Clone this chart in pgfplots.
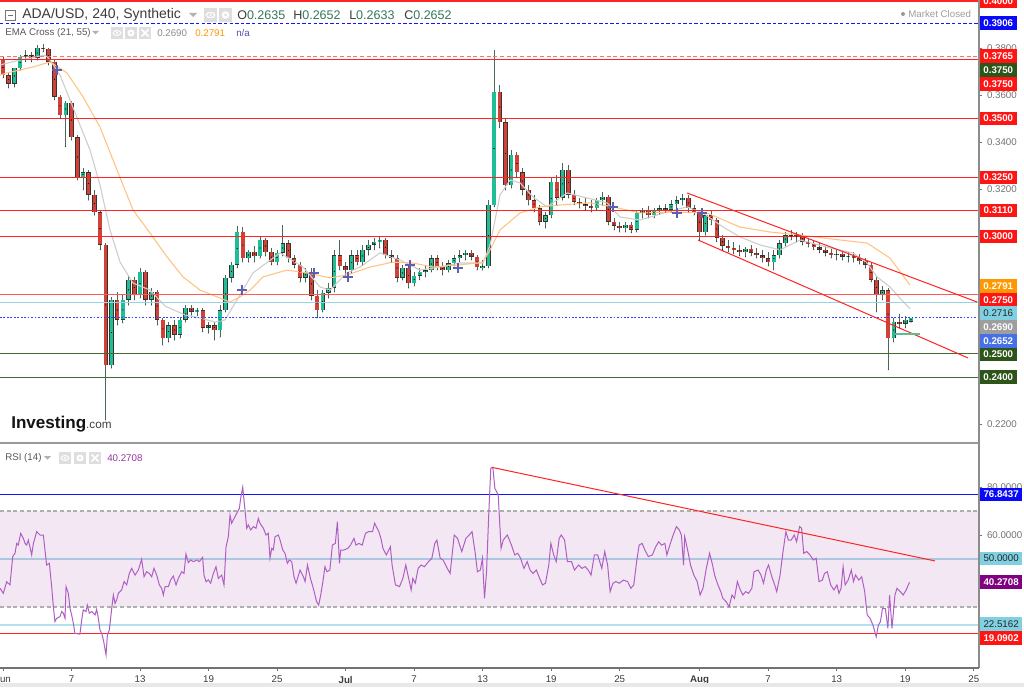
\documentclass[border=0pt]{standalone}
\usepackage{pgfplots}
\pgfplotsset{compat=1.18}
\usepackage{pgfplotstable}
\usepackage{fontspec}
\setmainfont{Liberation Sans}

\definecolor{tvred}{RGB}{255,35,35}
\definecolor{lblred}{RGB}{255,20,20}
\definecolor{dkgreen}{RGB}{45,85,25}
\definecolor{lngreen}{RGB}{70,105,50}
\definecolor{lnblue}{RGB}{20,20,255}
\definecolor{lblblue}{RGB}{10,10,250}
\definecolor{emaorange}{RGB}{255,195,130}
\definecolor{lblorange}{RGB}{255,152,0}
\definecolor{emagray}{RGB}{205,205,205}
\definecolor{lblgray}{RGB}{158,158,158}
\definecolor{lblcyan}{RGB}{128,208,226}
\definecolor{lncyan}{RGB}{150,212,228}
\definecolor{lblroyal}{RGB}{72,112,230}
\definecolor{lastblue}{RGB}{40,70,255}
\definecolor{upc}{RGB}{30,190,150}
\definecolor{dnc}{RGB}{210,65,55}
\definecolor{edgec}{RGB}{60,50,45}
\definecolor{wickc}{RGB}{75,105,90}
\definecolor{crossc}{RGB}{95,95,175}
\definecolor{rsic}{RGB}{175,95,195}
\definecolor{bandc}{RGB}{243,231,243}
\definecolor{rsidash}{RGB}{175,175,175}
\definecolor{rsimid}{RGB}{172,200,225}
\definecolor{rsilow}{RGB}{180,226,236}
\definecolor{lblpurple}{RGB}{128,0,128}
\definecolor{txt}{RGB}{60,60,60}
\definecolor{ticktxt}{RGB}{115,115,115}
\definecolor{ohlc}{RGB}{55,120,85}
\definecolor{naclr}{RGB}{80,80,175}
\definecolor{icon}{RGB}{222,222,222}
\definecolor{shortg}{RGB}{90,190,150}

\pgfplotstableread{
d o h l c
0 .3749 .3762 .3672 .3685
0.5 .3685 .3698 .3630 .3647
1 .3647 .3715 .3634 .3715
1.5 .3715 .3770 .3706 .3762
2 .3762 .3792 .3741 .3770
2.5 .3770 .3783 .3741 .3758
3 .3758 .3813 .3749 .3800
3.5 .3800 .3817 .3783 .3796
4 .3796 .3800 .3728 .3741
4.5 .3741 .3749 .3579 .3592
5 .3592 .3600 .3502 .3515
5.5 .3515 .3575 .3380 .3566
6 .3566 .3575 .3409 .3421
6.5 .3421 .3430 .3238 .3251
7 .3251 .3289 .3196 .3272
7.5 .3272 .3281 .3153 .3175
8 .3175 .3196 .3089 .3102
8.5 .3102 .3111 .2941 .2962
9 .2962 .2970 .2217 .2451
9.5 .2451 .2741 .2438 .2728
10 .2728 .2762 .2621 .2643
10.5 .2643 .2749 .2630 .2728
11 .2728 .2834 .2706 .2813
11.5 .2813 .2826 .2728 .2749
12 .2749 .2864 .2736 .2847
12.5 .2847 .2855 .2706 .2728
13 .2728 .2779 .2706 .2762
13.5 .2762 .2770 .2621 .2643
14 .2643 .2651 .2536 .2566
14.5 .2566 .2634 .2549 .2621
15 .2621 .2643 .2557 .2579
15.5 .2579 .2651 .2566 .2643
16 .2643 .2706 .2634 .2694
16.5 .2694 .2706 .2664 .2677
17 .2677 .2694 .2660 .2685
17.5 .2685 .2694 .2592 .2609
18 .2609 .2634 .2587 .2621
18.5 .2621 .2634 .2557 .2600
19 .2600 .2706 .2570 .2685
19.5 .2685 .2834 .2677 .2822
20 .2822 .2889 .2804 .2877
20.5 .2877 .3043 .2864 .3017
21 .3017 .3038 .2889 .2906
21.5 .2906 .2941 .2889 .2932
22 .2932 .2958 .2889 .2915
22.5 .2915 .2996 .2906 .2983
23 .2983 .2992 .2915 .2932
23.5 .2932 .2949 .2877 .2889
24 .2889 .2941 .2877 .2928
24.5 .2928 .3047 .2915 .2970
25 .2970 .2983 .2889 .2906
25.5 .2906 .2919 .2864 .2877
26 .2877 .2889 .2804 .2822
26.5 .2822 .2864 .2804 .2847
27 .2847 .2864 .2728 .2745
27.5 .2745 .2770 .2651 .2685
28 .2685 .2770 .2677 .2758
28.5 .2758 .2800 .2736 .2779
29 .2779 .2941 .2762 .2919
29.5 .2919 .2983 .2855 .2872
30 .2872 .2889 .2834 .2855
30.5 .2855 .2941 .2843 .2919
31 .2919 .2941 .2877 .2889
31.5 .2889 .2962 .2877 .2941
32 .2941 .2983 .2919 .2962
32.5 .2962 .2992 .2941 .2975
33 .2975 .3000 .2949 .2983
33.5 .2983 .2992 .2906 .2919
34 .2919 .2941 .2889 .2906
34.5 .2906 .2919 .2804 .2822
35 .2822 .2877 .2813 .2864
35.5 .2864 .2881 .2779 .2800
36 .2800 .2847 .2787 .2830
36.5 .2830 .2864 .2813 .2847
37 .2847 .2872 .2826 .2855
37.5 .2855 .2919 .2847 .2906
38 .2906 .2919 .2855 .2868
38.5 .2868 .2889 .2834 .2855
39 .2855 .2898 .2847 .2885
39.5 .2885 .2919 .2872 .2906
40 .2906 .2941 .2889 .2919
40.5 .2919 .2941 .2898 .2928
41 .2928 .2941 .2898 .2911
41.5 .2911 .2919 .2855 .2868
42 .2868 .2898 .2855 .2872
42.5 .2872 .3153 .2864 .3132
43 .3132 .3792 .3124 .3613
43.5 .3613 .3643 .3460 .3485
44 .3485 .3502 .3196 .3217
44.5 .3217 .3366 .3204 .3345
45 .3345 .3358 .3247 .3272
45.5 .3272 .3289 .3175 .3196
46 .3196 .3217 .3132 .3153
46.5 .3153 .3175 .3102 .3119
47 .3119 .3132 .3047 .3060
47.5 .3060 .3102 .3034 .3089
48 .3089 .3247 .3077 .3230
48.5 .3230 .3260 .3132 .3162
49 .3162 .3311 .3153 .3281
49.5 .3281 .3302 .3162 .3175
50 .3175 .3196 .3132 .3145
50.5 .3145 .3162 .3119 .3136
51 .3136 .3162 .3111 .3128
51.5 .3128 .3153 .3102 .3119
52 .3119 .3162 .3111 .3153
52.5 .3153 .3187 .3132 .3166
53 .3166 .3175 .3047 .3060
53.5 .3060 .3077 .3026 .3043
54 .3043 .3060 .3017 .3034
54.5 .3034 .3060 .3017 .3047
55 .3047 .3060 .3013 .3026
55.5 .3026 .3111 .3017 .3098
56 .3098 .3119 .3077 .3107
56.5 .3107 .3128 .3077 .3089
57 .3089 .3119 .3077 .3111
57.5 .3111 .3132 .3094 .3119
58 .3119 .3136 .3102 .3111
58.5 .3111 .3153 .3102 .3136
59 .3136 .3170 .3119 .3153
59.5 .3153 .3179 .3132 .3162
60 .3162 .3175 .3102 .3119
60.5 .3119 .3132 .3089 .3102
61 .3102 .3111 .2983 .3017
61.5 .3017 .3102 .3004 .3089
62 .3089 .3111 .3047 .3068
62.5 .3068 .3077 .2975 .2992
63 .2992 .3004 .2941 .2958
63.5 .2958 .2983 .2932 .2949
64 .2949 .2975 .2924 .2941
64.5 .2941 .2962 .2915 .2932
65 .2932 .2953 .2911 .2945
65.5 .2945 .2962 .2915 .2928
66 .2928 .2949 .2906 .2919
66.5 .2919 .2941 .2889 .2906
67 .2906 .2932 .2872 .2889
67.5 .2889 .2941 .2855 .2919
68 .2919 .2983 .2906 .2970
68.5 .2970 .3017 .2958 .3004
69 .3004 .3026 .2983 .2996
69.5 .2996 .3017 .2975 .3004
70 .3004 .3013 .2962 .2975
70.5 .2975 .2992 .2953 .2966
71 .2966 .2983 .2941 .2953
71.5 .2953 .2970 .2928 .2941
72 .2941 .2958 .2915 .2928
72.5 .2928 .2949 .2906 .2919
73 .2919 .2941 .2898 .2924
73.5 .2924 .2941 .2898 .2911
74 .2911 .2932 .2889 .2915
74.5 .2915 .2932 .2889 .2906
75 .2906 .2924 .2881 .2894
75.5 .2894 .2906 .2864 .2877
76 .2877 .2889 .2804 .2813
76.5 .2813 .2830 .2677 .2749
77 .2749 .2787 .2728 .2770
77.5 .2770 .2779 .2430 .2566
78 .2566 .2651 .2549 .2634
78.5 .2634 .2668 .2609 .2626
79 .2626 .2660 .2609 .2643
79.5 .2635 .2652 .2633 .2652
}\candles

\pgfplotstableread{
d p
-0.26 .3728
1.49 .3749
3.68 .3770
4.12 .3749
4.99 .3685
5.87 .3579
6.74 .3472
7.62 .3366
8.49 .3217
9.37 .3026
10.25 .2889
11.38 .2800
12.87 .2770
14.19 .2702
15.94 .2664
17.25 .2651
18.56 .2634
19.44 .2643
20.75 .2749
21.89 .2843
24.26 .2928
26.27 .2868
27.76 .2783
28.63 .2770
30.12 .2843
31.26 .2868
33.01 .2928
34.76 .2898
36.51 .2855
38.27 .2868
40.02 .2885
42.03 .2885
42.65 .2962
43.52 .3175
44.40 .3238
45.27 .3226
46.41 .3166
47.64 .3124
49.39 .3183
50.79 .3166
52.89 .3141
54.03 .3081
55.78 .3068
58.14 .3102
59.89 .3124
61.30 .3098
63.05 .3038
64.54 .2996
66.29 .2962
68.04 .2941
69.79 .2983
72.42 .2949
74.43 .2928
75.66 .2885
76.53 .2826
77.67 .2783
78.55 .2735
79.42 .2690
}\emafast

\pgfplotstableread{
d p
-0.26 .3685
0.35 .3694
2.63 .3719
4.12 .3741
5.60 .3694
7.01 .3592
8.49 .3464
9.98 .3281
11.38 .3111
12.87 .3013
14.36 .2911
15.76 .2826
17.25 .2770
18.74 .2741
19.88 .2719
20.75 .2741
21.63 .2770
22.77 .2826
24.87 .2855
26.62 .2843
28.63 .2822
30.12 .2834
32.14 .2868
34.15 .2889
35.90 .2885
37.65 .2868
40.02 .2877
42.03 .2889
42.65 .2941
43.52 .3026
45.27 .3098
47.02 .3124
48.77 .3132
51.40 .3141
53.42 .3124
55.78 .3098
58.67 .3102
61.65 .3098
64.54 .3038
67.16 .3017
69.79 .3004
73.29 .2983
75.66 .2970
77.67 .2906
79.42 .2791
}\emaslow

\pgfplotstableread{
d r
-0.26 37.8
0.03 35.7
0.32 40.5
0.61 39.2
0.85 51.0
1.05 52.4
1.20 56.5
1.34 55.8
1.55 60.7
1.78 58.6
1.93 56.5
2.07 55.8
2.22 57.9
2.51 51.7
2.66 56.5
2.95 61.4
3.24 60.0
3.53 60.0
3.82 47.5
4.06 48.2
4.26 38.5
4.41 30.1
4.55 23.9
4.70 25.3
4.99 26.0
5.14 28.1
5.28 27.4
5.43 25.3
5.52 38.5
5.72 35.7
5.87 29.4
6.01 26.7
6.16 23.2
6.30 19.0
6.74 18.7
6.89 24.6
7.03 28.8
7.27 28.1
7.38 30.8
7.56 27.4
7.76 28.1
8.06 26.7
8.20 29.0
8.35 25.3
8.49 20.4
8.64 19.0
8.79 16.3
9.02 10.0
9.14 18.3
9.31 20.4
9.52 29.4
9.66 35.0
9.81 31.5
9.95 32.9
10.10 35.7
10.39 37.1
10.60 40.6
10.83 39.2
11.06 44.0
11.27 46.1
11.56 43.3
11.85 45.4
12.14 49.9
12.35 42.6
12.58 44.7
12.81 44.0
13.02 42.6
13.22 46.1
13.46 43.3
13.69 39.2
13.89 37.8
14.04 35.0
14.19 38.5
14.48 38.5
14.68 41.3
14.91 42.9
15.15 39.2
15.35 41.9
15.65 44.7
15.85 44.0
16.02 52.1
16.23 48.5
16.43 49.6
16.67 48.9
16.96 49.6
17.19 48.9
17.48 50.7
17.60 43.3
17.78 40.5
17.98 41.3
18.18 39.9
18.42 44.0
18.65 46.8
18.86 41.9
19.00 42.6
19.15 43.3
19.35 39.2
19.53 55.1
19.73 59.3
19.88 68.3
20.02 64.9
20.17 66.3
20.46 69.0
20.70 71.1
20.81 75.3
20.99 79.9
21.19 70.4
21.34 62.8
21.48 64.2
21.69 62.1
21.92 63.5
22.15 62.8
22.36 66.9
22.50 64.9
22.80 62.8
23.03 60.0
23.23 60.7
23.38 50.3
23.53 54.4
23.67 53.8
23.82 59.3
24.11 60.0
24.26 57.9
24.49 53.8
24.69 52.4
24.90 48.2
25.07 49.6
25.28 48.9
25.48 42.6
25.66 39.9
26.01 45.4
26.30 42.6
26.45 40.6
26.66 47.5
26.92 41.9
27.17 37.8
27.46 32.2
27.64 30.8
27.82 35.0
28.01 40.6
28.19 46.8
28.37 44.7
28.62 45.4
28.84 55.8
29.10 56.5
29.28 65.6
29.46 48.2
29.57 53.7
29.82 53.7
30.18 54.4
30.44 55.8
30.73 58.6
30.91 55.8
31.16 56.5
31.45 55.8
31.74 60.7
32.00 61.4
32.36 61.4
32.54 64.9
32.91 61.4
33.09 58.6
33.27 54.4
33.56 51.7
33.92 55.1
34.07 47.5
34.36 39.2
34.72 38.5
35.01 41.9
35.27 47.5
35.52 41.9
35.74 37.1
35.88 41.9
36.10 39.9
36.35 46.1
36.61 47.5
36.90 46.8
37.26 48.9
37.55 50.3
37.81 56.5
37.99 57.9
38.28 50.3
38.53 49.6
38.90 46.1
39.15 44.0
39.51 60.0
39.80 58.6
40.17 53.1
40.35 55.8
40.53 58.6
40.82 60.0
41.07 61.4
41.33 53.1
41.54 44.7
41.80 45.4
41.98 50.3
42.16 33.6
42.34 44.7
42.53 68.3
42.71 87.8
42.89 88.2
43.07 79.4
43.36 76.7
43.51 63.5
43.61 54.4
43.80 57.9
44.16 60.0
44.52 55.8
44.81 51.7
45.07 52.4
45.32 50.3
45.61 46.1
45.90 48.9
46.15 45.4
46.41 44.0
46.70 45.4
46.99 41.9
47.24 39.2
47.50 39.9
47.79 47.5
47.97 56.5
48.22 51.7
48.44 48.9
48.70 58.6
48.88 60.0
49.17 57.9
49.42 48.9
49.78 48.9
50.04 45.4
50.40 47.5
50.69 46.1
50.98 46.8
51.24 45.4
51.49 43.3
51.78 51.7
52.07 51.7
52.43 46.1
52.69 53.1
52.94 47.5
53.16 36.4
53.41 39.9
53.67 40.6
53.96 39.9
54.32 41.2
54.69 40.6
54.98 37.8
55.23 39.2
55.48 48.9
55.70 55.8
55.96 56.5
56.21 53.7
56.50 51.0
56.86 51.7
57.15 55.1
57.41 57.2
57.66 55.8
57.95 56.5
58.13 51.7
58.39 55.8
58.68 60.0
58.97 63.5
59.22 62.1
59.40 60.0
59.59 47.5
59.69 59.3
59.95 53.7
60.20 47.5
60.49 43.3
60.78 40.6
61.04 35.0
61.29 37.8
61.58 46.1
61.87 52.4
62.13 47.5
62.31 43.3
62.60 39.2
62.85 36.4
63.03 33.6
63.32 32.2
63.58 30.1
63.83 35.0
64.05 33.6
64.30 40.6
64.56 37.1
64.78 35.0
65.03 36.4
65.28 35.7
65.57 37.8
65.76 44.7
66.12 45.4
66.37 43.3
66.59 39.9
66.84 45.4
67.03 47.5
67.32 42.6
67.57 39.2
67.75 36.4
68.04 43.3
68.30 53.1
68.55 61.4
68.77 57.9
69.02 57.9
69.28 60.0
69.49 57.2
69.75 63.5
69.93 62.8
70.11 52.4
70.37 53.1
70.66 51.7
70.95 49.6
71.20 50.3
71.45 40.6
71.74 41.2
71.93 44.0
72.18 44.7
72.47 39.2
72.76 37.1
73.02 39.2
73.20 35.7
73.38 37.8
73.56 46.8
73.74 39.2
74.00 41.2
74.28 45.4
74.47 40.6
74.65 43.3
74.94 41.2
75.19 42.6
75.45 36.4
75.67 26.7
75.92 25.3
76.17 22.5
76.46 17.6
76.65 22.5
76.83 23.9
77.01 29.4
77.26 29.4
77.48 21.1
77.63 35.0
77.84 21.1
78.10 35.0
78.28 37.8
78.57 36.4
78.82 35.0
79.08 37.1
79.37 40.27
}\rsi

\newcommand\lblfont{\bfseries\fontsize{7.3}{8}\selectfont}
\newcommand\smallfont{\fontsize{7.3}{8}\selectfont}
\def\XA{-0.263}
\def\XB{85.46}
\newcommand\plabel[4]{\node[fill=#2, text=#3, font=\lblfont, inner sep=0pt, minimum width=27.75pt, minimum height=9.9pt, anchor=west] at (979.5,687-#1) {#4};}
\newcommand\plabelc[2]{\node[fill=lblcyan, text=black!85, font=\smallfont, inner sep=0pt, minimum width=#2, minimum height=9.9pt, anchor=west] at (979.5,687-#1)}
\newcommand\rlabel[4]{\node[fill=#2, text=#3, font=\lblfont, inner sep=0pt, minimum width=32pt, minimum height=9.9pt, anchor=west] at (979.5,687-#1) {#4};}
\pgfplotsset{candle/.style={forget plot, only marks, mark=*, mark size=0.01pt, mark options={draw=none, fill=none}}}

\begin{document}
\begin{tikzpicture}
\begin{scope}[x=0.75pt,y=0.75pt]
\fill[white] (0,0) rectangle (1024,687);
\end{scope}

% ---------------- price panel ----------------
\begin{axis}[
  at={(0pt,183.75pt)}, anchor=south west, scale only axis,
  width=734.25pt, height=331.5pt,
  xmin=-0.263, xmax=85.46, ymin=0.21234, ymax=0.40043,
  axis line style={draw=none},
  xtick=\empty,
  ytick={0.22,0.32,0.34,0.36,0.38},
  ytick pos=right, yticklabel pos=right,
  tick align=outside, major tick length=2.5pt,
  tick style={ticktxt, line width=0.6pt},
  scaled y ticks=false,
  yticklabel style={font=\smallfont, text=ticktxt, /pgf/number format/.cd, fixed, fixed zerofill, precision=4, assume math mode=true},
  clip=true,
]
% candles
\addplot[candle, error bars/.cd, y dir=plus, y explicit, error mark=none,
  error bar style={line width=0.65pt, wickc}]
  table[x=d, y=l, y error expr=\thisrow{h}-\thisrow{l}] {\candles};
\addplot[candle, error bars/.cd, y dir=both, y explicit, error mark=none,
  error bar style={line width=3.4pt, edgec}]
  table[x=d, y expr=(\thisrow{o}+\thisrow{c})/2, y error expr={max(abs(\thisrow{c}-\thisrow{o})/2,0.00025)}] {\candles};
\addplot[candle, error bars/.cd, y dir=both, y explicit, error mark=none,
  error bar style={line width=2.5pt, upc}]
  table[x=d, y expr=(\thisrow{o}+\thisrow{c})/2, y error expr={(\thisrow{c}>=\thisrow{o}) ? max((\thisrow{c}-\thisrow{o})/2-0.0002,0.0001) : 0}] {\candles};
\addplot[candle, error bars/.cd, y dir=both, y explicit, error mark=none,
  error bar style={line width=2.5pt, dnc}]
  table[x=d, y expr=(\thisrow{o}+\thisrow{c})/2, y error expr={(\thisrow{c}<\thisrow{o}) ? max((\thisrow{o}-\thisrow{c})/2-0.0002,0.0001) : 0}] {\candles};
% EMAs
\addplot[emagray, line width=0.8pt, forget plot] table[x=d, y=p] {\emafast};
\addplot[emaorange, line width=0.8pt, forget plot] table[x=d, y=p] {\emaslow};
% horizontal levels
\addplot[tvred, line width=0.8pt, forget plot] coordinates {(\XA,0.4000) (\XB,0.4000)};
\addplot[lnblue, line width=0.7pt, dash pattern=on 2.6pt off 1.6pt, forget plot] coordinates {(\XA,0.3906) (\XB,0.3906)};
\addplot[tvred!65, line width=0.8pt, dash pattern=on 3pt off 2pt, forget plot] coordinates {(\XA,0.3765) (\XB,0.3765)};
\addplot[tvred, line width=0.75pt, forget plot] coordinates {(\XA,0.3750) (\XB,0.3750)};
\addplot[tvred, line width=0.75pt, forget plot] coordinates {(\XA,0.3500) (\XB,0.3500)};
\addplot[tvred, line width=0.75pt, forget plot] coordinates {(\XA,0.3250) (\XB,0.3250)};
\addplot[tvred, line width=0.75pt, forget plot] coordinates {(\XA,0.3110) (\XB,0.3110)};
\addplot[tvred, line width=0.75pt, forget plot] coordinates {(\XA,0.3000) (\XB,0.3000)};
\addplot[tvred!75, line width=1.1pt, forget plot] coordinates {(\XA,0.2750) (\XB,0.2750)};
\addplot[lncyan, line width=0.8pt, forget plot] coordinates {(\XA,0.2716) (\XB,0.2716)};
\addplot[lastblue, line width=0.75pt, dash pattern=on 1.3pt off 1.3pt, forget plot] coordinates {(\XA,0.2652) (\XB,0.2652)};
\addplot[lngreen, line width=0.75pt, forget plot] coordinates {(\XA,0.2500) (\XB,0.2500)};
\addplot[lngreen, line width=0.75pt, forget plot] coordinates {(\XA,0.2400) (\XB,0.2400)};
% channel
\addplot[tvred, line width=0.75pt, forget plot] coordinates {(59.9,0.3183) (85.3,0.2719)};
\addplot[tvred, line width=0.75pt, forget plot] coordinates {(60.86,0.2983) (84.5,0.2481)};
\addplot[shortg, line width=1pt, forget plot] coordinates {(78.1,0.2583) (80.3,0.2583)};
% EMA cross markers
\addplot[only marks, mark=+, mark size=3.6pt, crossc, line width=2pt, forget plot] coordinates {
(4.73,.3706) (20.93,.2770) (27.23,.2843) (30.21,.2826) (35.64,.2877) (39.84,.2864) (53.42,.3124) (59.02,.3098) (61.21,.3098)};
\end{axis}

% ---------------- RSI panel ----------------
\begin{axis}[
  at={(0pt,14.25pt)}, anchor=south west, scale only axis,
  width=734.25pt, height=167.25pt,
  xmin=-0.263, xmax=85.46, ymin=4.58, ymax=97.5,
  axis line style={draw=none},
  xtick={0,6,12,18,24,30,36,42,48,54,61,67,73,79,85},
  xticklabels={Jun,7,13,19,25,\textbf{Jul},7,13,19,25,\textbf{Aug},7,13,19,25},
  xtick pos=left, xticklabel pos=left,
  ytick={60,80}, ytick pos=right, yticklabel pos=right,
  tick align=outside, major tick length=2.5pt,
  tick style={ticktxt, line width=0.6pt},
  xticklabel style={font=\smallfont, text=txt},
  yticklabel style={font=\smallfont, text=ticktxt, /pgf/number format/.cd, fixed, fixed zerofill, precision=4, assume math mode=true},
  clip=true,
]
\fill[bandc] (axis cs:\XA,30) rectangle (axis cs:\XB,70);
\addplot[rsidash, line width=1pt, dash pattern=on 3pt off 2pt, forget plot] coordinates {(\XA,70) (\XB,70)};
\addplot[rsidash, line width=1pt, dash pattern=on 3pt off 2pt, forget plot] coordinates {(\XA,30) (\XB,30)};
\addplot[lnblue, line width=0.75pt, forget plot] coordinates {(\XA,76.8437) (\XB,76.8437)};
\addplot[rsimid, line width=1.4pt, forget plot] coordinates {(\XA,50) (\XB,50)};
\addplot[rsilow, line width=1.4pt, forget plot] coordinates {(\XA,22.5162) (\XB,22.5162)};
\addplot[tvred, line width=0.75pt, forget plot] coordinates {(\XA,19.0902) (\XB,19.0902)};
\addplot[rsic, line width=0.75pt, forget plot] table[x=d, y=r] {\rsi};
\addplot[tvred, line width=0.75pt, forget plot] coordinates {(42.8,88.2) (81.6,49.2)};
\end{axis}

% ---------------- frame, labels, headers ----------------
\begin{scope}[x=0.75pt,y=0.75pt]
\fill[black!9] (0,0) rectangle (1024,4);
\draw[black!45, line width=1.1pt] (979,687) -- (979,19);
\draw[black!40, line width=1.3pt] (0,244) -- (979,244);
\draw[black!55, line width=0.8pt] (0,19) -- (979,19);

% price labels
\plabel{1}{lblred}{white}{0.4000}
\plabel{23}{lblblue}{white}{0.3906}
\plabel{56}{lblred}{white}{0.3765}
\plabel{70}{dkgreen}{white}{0.3750}
\plabel{84}{lblred}{white}{0.3750}
\plabel{118.5}{lblred}{white}{0.3500}
\plabel{177.5}{lblred}{white}{0.3250}
\plabel{210.5}{lblred}{white}{0.3110}
\plabel{236.5}{lblred}{white}{0.3000}
\plabel{286}{lblorange}{white}{0.2791}
\plabel{300}{lblred}{white}{0.2750}
\plabelc{313}{27.75pt}{0.2716};
\plabel{327}{lblgray}{white}{0.2690}
\plabel{341}{lblroyal}{white}{0.2652}
\plabel{354.5}{dkgreen}{white}{0.2500}
\plabel{377}{dkgreen}{white}{0.2400}
% RSI labels
\rlabel{494.6}{lblblue}{white}{76.8437}
\plabelc{558.5}{32pt}{50.0000};
\rlabel{582}{lblpurple}{white}{40.2708}
\plabelc{624}{32pt}{22.5162};
\rlabel{638}{lblred}{white}{19.0902}

% title line
\draw[black!55, line width=0.6pt] (5,667) rectangle (15,677);
\draw[black!55, line width=0.6pt] (7.5,672) -- (12.5,672);
\node[anchor=west, inner sep=0pt, text=txt, font=\fontsize{10.5}{12}\selectfont] at (22,672) {ADA/USD, 240, Synthetic};
\fill[black!30] (189,674) -- (197,674) -- (193,670) -- cycle;
\fill[icon] (204,665) rectangle (217,679);
\fill[icon] (219,665) rectangle (232,679);
\draw[white, line width=0.9pt] (210.5,672) ellipse (4.2 and 2.6);
\fill[white] (210.5,672) circle (1.2);
\fill[white] (225.5,672) circle (3.8);
\fill[icon] (225.5,672) circle (1.5);
\node[anchor=west, inner sep=0pt, font=\fontsize{9.4}{11}\selectfont] at (237,672) {\textcolor{txt}{O}\textcolor{ohlc}{0.2635}};
\node[anchor=west, inner sep=0pt, font=\fontsize{9.4}{11}\selectfont] at (293,672) {\textcolor{txt}{H}\textcolor{ohlc}{0.2652}};
\node[anchor=west, inner sep=0pt, font=\fontsize{9.4}{11}\selectfont] at (349,672) {\textcolor{txt}{L}\textcolor{ohlc}{0.2633}};
\node[anchor=west, inner sep=0pt, font=\fontsize{9.4}{11}\selectfont] at (404,672) {\textcolor{txt}{C}\textcolor{ohlc}{0.2652}};

% EMA line
\node[anchor=west, inner sep=0pt, text=txt!85, font=\smallfont] at (5,654) {EMA Cross (21, 55)};
\fill[black!30] (92,656) -- (99,656) -- (95.5,652.5) -- cycle;
\fill[icon] (111,648) rectangle (123,660);
\fill[icon] (125,648) rectangle (137,660);
\fill[icon] (139,648) rectangle (151,660);
\draw[white, line width=0.8pt] (117,654) ellipse (3.8 and 2.4);
\fill[white] (117,654) circle (1.1);
\fill[white] (131,654) circle (3.5);
\fill[icon] (131,654) circle (1.4);
\draw[white, line width=1.1pt] (141.5,650.5) -- (148.5,657.5) (141.5,657.5) -- (148.5,650.5);
\node[anchor=west, inner sep=0pt, text=black!45, font=\smallfont] at (157,654) {0.2690};
\node[anchor=west, inner sep=0pt, text=lblorange, font=\smallfont] at (195,654) {0.2791};
\node[anchor=west, inner sep=0pt, text=naclr, font=\smallfont] at (236,654) {n/a};

% market closed
\fill[black!40] (903,673) circle (2);
\node[anchor=west, inner sep=0pt, text=black!38, font=\smallfont] at (908,673) {Market Closed};

% logo
\node[anchor=base west, inner sep=0pt] at (11,259) {\fontsize{12.8}{14}\selectfont\bfseries\textcolor{black!92}{Investing}\fontsize{8.8}{10}\mdseries\selectfont\textcolor{black!75}{.com}};

% RSI header
\node[anchor=west, inner sep=0pt, text=txt!85, font=\smallfont] at (5,229) {RSI (14)};
\fill[black!30] (44,231) -- (51,231) -- (47.5,227.5) -- cycle;
\fill[icon] (59,223) rectangle (71,235);
\fill[icon] (74,223) rectangle (86,235);
\fill[icon] (89,223) rectangle (101,235);
\draw[white, line width=0.8pt] (65,229) ellipse (3.8 and 2.4);
\fill[white] (65,229) circle (1.1);
\fill[white] (80,229) circle (3.5);
\fill[icon] (80,229) circle (1.4);
\draw[white, line width=1.1pt] (91.5,225.5) -- (98.5,232.5) (91.5,232.5) -- (98.5,225.5);
\node[anchor=west, inner sep=0pt, text=lblpurple!80, font=\smallfont] at (107,229) {40.2708};
\end{scope}

\pgfresetboundingbox
\path[use as bounding box] (0pt,0pt) rectangle (768pt,515.25pt);
\end{tikzpicture}
\end{document}
